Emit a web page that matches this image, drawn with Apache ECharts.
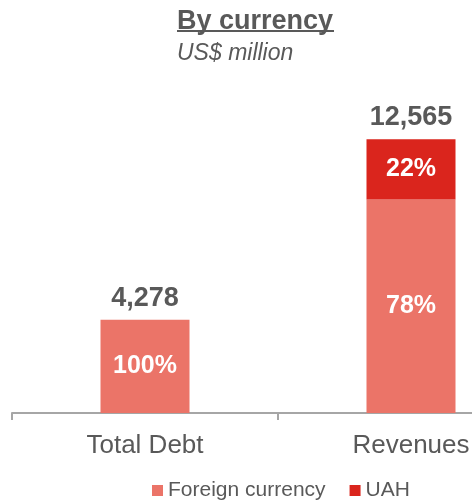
<!DOCTYPE html>
<html>
<head>
<meta charset="utf-8">
<script src="https://cdn.jsdelivr.net/npm/echarts@6/dist/echarts.min.js"></script>
<style>
  html, body { margin: 0; padding: 0; background: #fff; overflow: hidden; }
  /* the plot runs past the right edge of the page, so the canvas is wider than the view */
  #chart { width: 544px; height: 501px; }
</style>
</head>
<body>
<div id="chart"></div>
<script>
// Currency split of debt and revenues (US$ million)
const categories = ['Total Debt', 'Revenues'];
const totals = [4278, 12565];
const foreignShare = [100, 78];   // % in foreign currency
const uahShare = [0, 22];         // % in UAH
const seriesNames = ['Foreign currency', 'UAH'];

const foreignValues = totals.map((t, i) => t * foreignShare[i] / 100);
const uahValues = totals.map((t, i) => t * uahShare[i] / 100);

const textGray = '#595959';
const sans = '"Liberation Sans", Arial, sans-serif';

const chart = echarts.init(document.getElementById('chart'), null, { renderer: 'canvas' });

chart.setOption({
  animation: false,
  title: [
    {
      text: 'By currency',
      left: 177,
      top: 8,
      padding: 0,
      textStyle: { fontFamily: sans, fontWeight: 'bold', fontSize: 27, color: textGray }
    },
    {
      text: 'US$ million',
      left: 177,
      top: 42,
      padding: 0,
      textStyle: { fontFamily: sans, fontStyle: 'italic', fontWeight: 'normal', fontSize: 23, color: textGray }
    }
  ],
  graphic: [
    // underline beneath the heading
    { type: 'rect', left: 177, top: 30, shape: { width: 157, height: 2 }, style: { fill: textGray }, silent: true }
  ],
  legend: {
    data: seriesNames,
    left: 152,
    top: 480,
    padding: 0,
    icon: 'rect',
    itemWidth: 11,
    itemHeight: 11,
    itemGap: 24,
    textStyle: { fontFamily: sans, fontSize: 21, color: textGray }
  },
  grid: { left: 12, right: 0, top: 108, bottom: 88 },
  xAxis: {
    type: 'category',
    data: categories,
    axisLine: { lineStyle: { color: '#A6A6A6', width: 2 } },
    axisTick: { show: true, length: 7, lineStyle: { color: '#A6A6A6', width: 2 } },
    axisLabel: { fontFamily: sans, fontSize: 26, color: textGray, margin: 20 }
  },
  yAxis: {
    type: 'value',
    min: 0,
    max: 14000,
    show: false,
    splitLine: { show: false }
  },
  series: [
    {
      name: seriesNames[0],
      type: 'bar',
      stack: 'cur',
      barWidth: 89,
      itemStyle: { color: '#EB7468' },
      data: foreignValues,
      label: {
        show: true,
        position: 'inside',
        formatter: p => foreignShare[p.dataIndex] ? foreignShare[p.dataIndex] + '%' : '',
        fontFamily: sans, fontWeight: 'bold', fontSize: 25, color: '#fff'
      }
    },
    {
      name: seriesNames[1],
      type: 'bar',
      stack: 'cur',
      barWidth: 89,
      itemStyle: { color: '#DA251D' },
      data: uahValues,
      label: {
        show: true,
        position: 'inside',
        formatter: p => uahShare[p.dataIndex] ? uahShare[p.dataIndex] + '%' : '',
        fontFamily: sans, fontWeight: 'bold', fontSize: 25, color: '#fff'
      }
    },
    {
      // zero-height cap carrying the total above each stack
      name: 'total',
      type: 'bar',
      stack: 'cur',
      barWidth: 89,
      silent: true,
      itemStyle: { color: 'transparent' },
      data: totals.map(() => 0),
      label: {
        show: true,
        position: 'top',
        distance: 8,
        formatter: p => totals[p.dataIndex].toLocaleString('en-US'),
        fontFamily: sans, fontWeight: 'bold', fontSize: 27, color: textGray
      }
    }
  ]
});
</script>
</body>
</html>
